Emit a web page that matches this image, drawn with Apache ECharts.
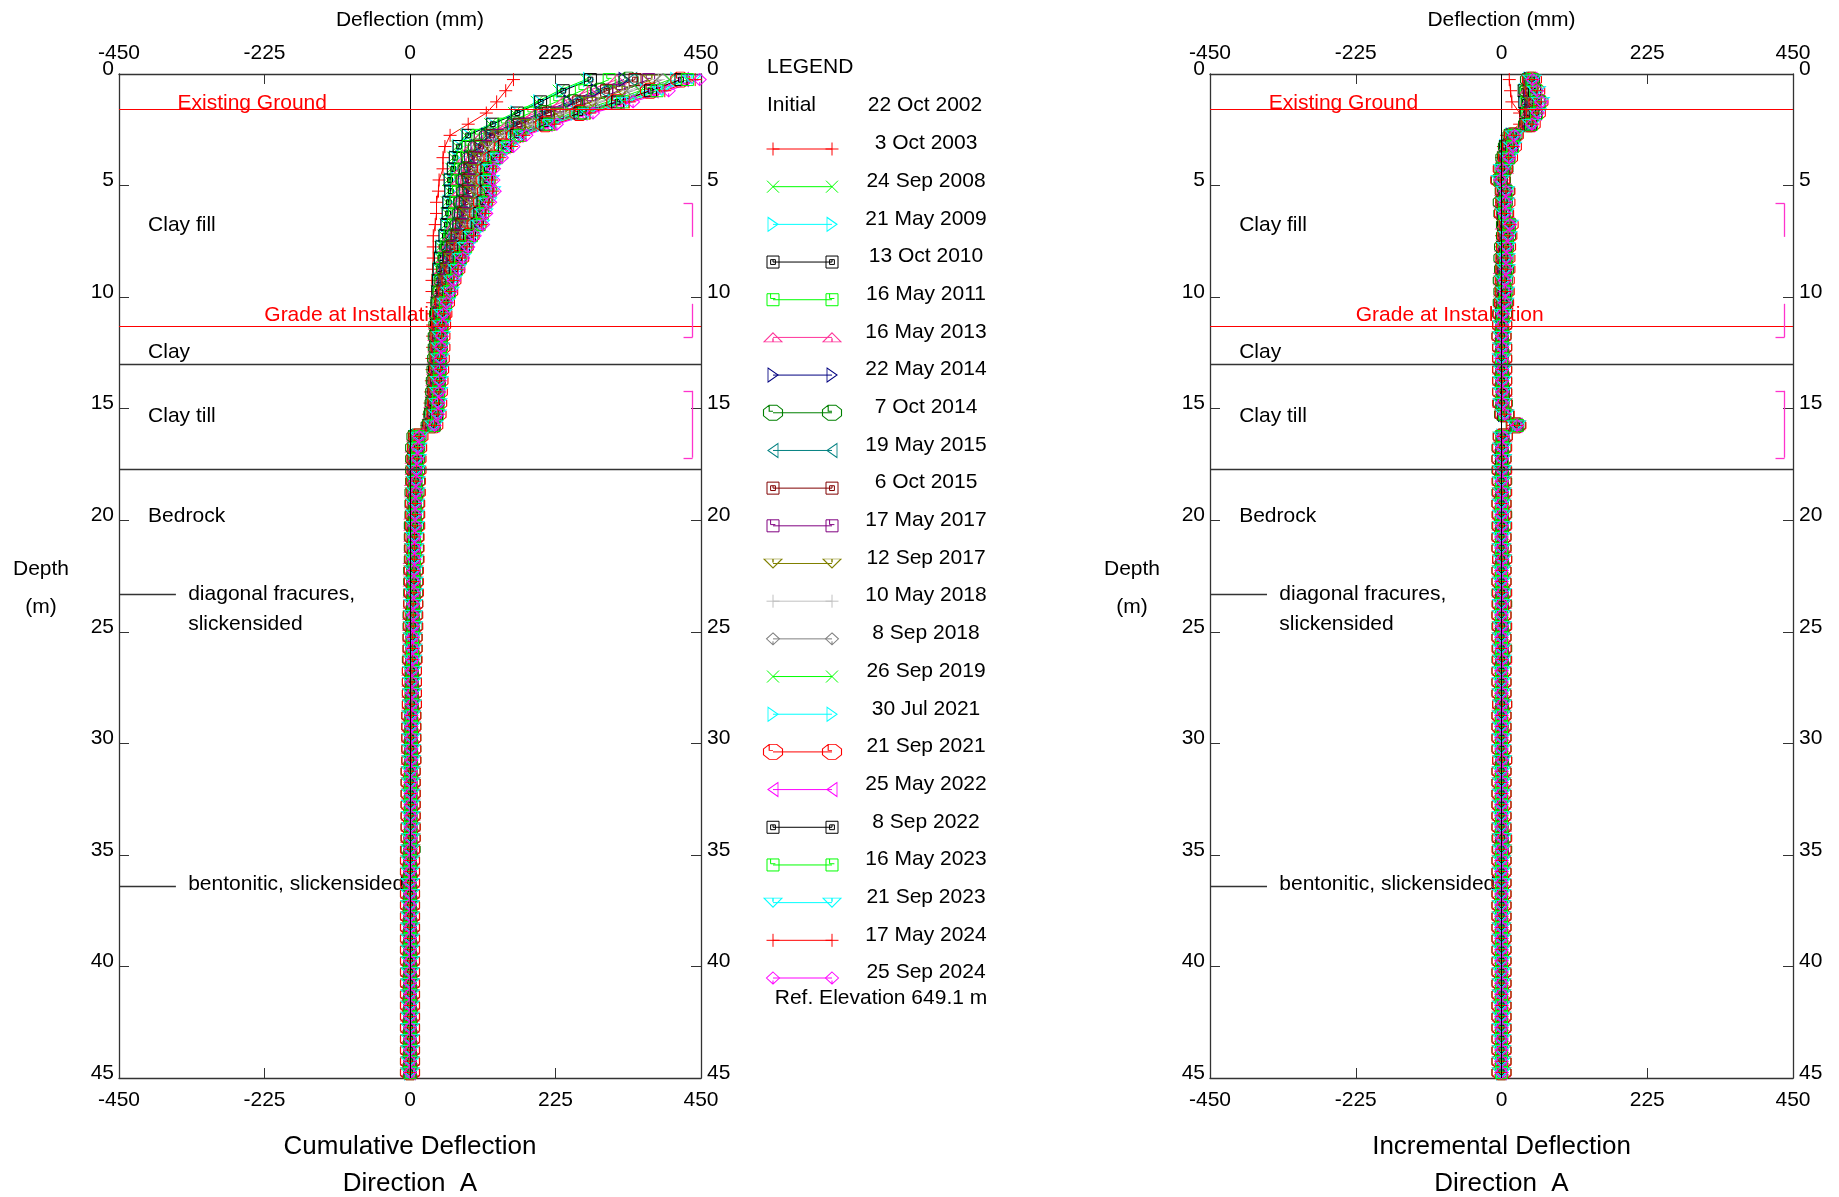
<!DOCTYPE html>
<html>
<head>
<meta charset="utf-8">
<script src="https://cdn.jsdelivr.net/npm/echarts@6/dist/echarts.min.js"></script>
<style>
html, body { margin: 0; padding: 0; background: #fff; }
#chart { width: 1839px; height: 1197px; }
</style>
</head>
<body>
<div id="chart"></div>
<script>
// reading depths (m)
const depths = [0.25,0.75,1.25,1.75,2.25,2.75,3.25,3.75,4.25,4.75,5.25,5.75,6.25,6.75,7.25,7.75,8.25,8.75,9.25,9.75,
  10.25,10.75,11.25,11.75,12.25,12.75,13.25,13.75,14.25,14.75,15.25,15.75,16.25,16.75,17.25,17.75,18.25,18.75,19.25,19.75,
  20.25,20.75,21.25,21.75,22.25,22.75,23.25,23.75,24.25,24.75,25.25,25.75,26.25,26.75,27.25,27.75,28.25,28.75,29.25,29.75,
  30.25,30.75,31.25,31.75,32.25,32.75,33.25,33.75,34.25,34.75,35.25,35.75,36.25,36.75,37.25,37.75,38.25,38.75,39.25,39.75,
  40.25,40.75,41.25,41.75,42.25,42.75,43.25,43.75,44.25,44.75];

const dates = ['3 Oct 2003','24 Sep 2008','21 May 2009','13 Oct 2010','16 May 2011','16 May 2013','22 May 2014','7 Oct 2014',
  '19 May 2015','6 Oct 2015','17 May 2017','12 Sep 2017','10 May 2018','8 Sep 2018','26 Sep 2019','30 Jul 2021',
  '21 Sep 2021','25 May 2022','8 Sep 2022','16 May 2023','21 Sep 2023','17 May 2024','25 Sep 2024'];

// cumulative deflection (mm), 0.25 m .. 17.75 m
const cumOct2003 = [160,148,134,118,90,62,54,51,51,45,44,41,41,39,36,36,36,35,34,34,35,35,35,35,35,34,34,33,32,31,29,26,8,7,6,6];
const cumSep2008 = [272,230,196,161,124,86,73,67,64,59,60,57,57,55,52,47,46,44,43,42,41,40,40,39,39,38,37,36,35,33,31,28,7,6,6,6];
const cumMay2009 = [276,234,199,164,126,88,74,69,66,61,62,59,58,56,53,48,46,44,43,42,42,41,40,40,39,39,38,37,36,34,32,29,8,7,6,6];
const cumOct2010 = [279,237,202,166,128,90,76,70,67,62,63,60,59,57,54,49,47,45,44,43,42,41,41,40,40,39,38,37,36,34,32,29,7,6,6,6];
const cumMay2011 = [308,265,226,186,145,105,90,82,78,73,75,71,69,67,62,56,53,50,48,46,45,43,43,42,41,40,40,39,38,36,34,31,8,7,7,7];
const cumMay2013 = [320,276,236,194,152,112,96,87,82,78,79,75,73,70,65,59,55,52,50,48,46,44,43,42,42,41,40,39,38,36,35,31,9,7,7,7];
const cumMay2014 = [331,288,246,202,159,118,102,92,87,83,84,80,77,74,68,62,58,54,51,49,47,44,44,43,43,42,41,40,39,37,35,32,9,8,8,8];
const cumOct2014 = [338,294,252,207,163,122,105,95,89,86,87,82,80,77,70,63,59,56,52,50,47,45,44,43,43,42,41,40,39,38,36,32,10,8,8,8];
const cumMay2015 = [343,299,256,211,166,124,108,97,91,88,89,84,81,78,72,65,60,56,53,51,48,45,44,43,43,42,41,40,39,38,36,32,10,9,8,8];
const cumOct2015 = [348,304,261,214,169,127,110,100,93,90,91,86,83,80,73,66,61,57,54,51,48,46,45,44,43,42,42,41,40,38,37,33,10,9,8,8];
const cumMay2017 = [369,323,278,228,181,138,121,108,100,98,99,94,90,87,78,71,66,61,57,54,50,47,46,45,44,43,43,42,41,39,38,34,11,9,9,8];
const cumSep2017 = [374,328,282,232,183,140,123,110,102,100,101,96,92,88,80,72,67,62,57,54,50,47,46,45,45,44,43,42,41,40,38,34,11,10,9,8];
const cumMay2018 = [384,338,291,239,189,146,128,115,106,104,105,100,96,92,83,74,69,64,59,55,51,48,47,46,45,44,44,43,42,40,39,35,11,10,9,9];
const cumSep2018 = [391,345,296,243,193,149,131,118,109,106,108,102,98,94,84,76,70,65,60,56,52,48,47,46,45,44,44,43,42,41,39,35,12,10,9,9];
const cumSep2019 = [402,356,306,251,200,156,137,123,113,111,113,107,102,98,88,79,73,67,62,58,53,49,48,47,46,45,45,44,43,41,40,36,12,11,10,9];
const cumJul2021 = [411,364,314,257,205,160,142,126,116,114,116,110,105,101,90,81,74,68,63,59,54,50,48,47,46,45,45,44,43,42,41,36,12,11,10,9];
const cumSep2021 = [418,371,319,262,209,164,145,129,119,117,119,113,107,103,92,83,76,70,64,59,54,50,48,47,47,46,45,44,43,42,41,36,13,11,10,10];
const cumMay2022 = [423,376,324,266,212,167,147,131,121,119,121,114,109,105,93,84,77,71,64,60,55,50,49,48,47,46,46,45,44,43,41,37,13,11,10,10];
const cumSep2022 = [419,372,321,263,210,165,146,130,119,118,119,113,108,104,92,83,76,70,64,60,55,50,49,48,47,46,46,45,44,42,41,37,13,11,10,10];
const cumMay2023 = [429,382,329,270,216,170,151,134,123,122,124,117,112,107,95,86,78,72,65,61,55,51,49,48,47,46,46,45,44,43,42,37,13,12,11,10];
const cumSep2023 = [436,389,335,275,220,174,154,137,126,124,126,120,114,109,97,87,80,73,66,62,56,51,49,48,47,46,46,45,44,43,42,37,14,12,11,10];
const cumMay2024 = [441,394,339,278,223,176,157,139,128,126,128,121,116,111,98,88,81,74,67,62,56,52,50,49,48,47,47,46,45,44,43,38,14,12,11,10];
const cumSep2024 = [448,400,345,283,227,180,160,142,130,129,131,124,118,113,100,90,82,75,68,63,57,52,50,49,48,47,47,46,45,44,43,38,14,12,11,10];

// cumulative deflection in bedrock (mm), 18.25 m .. 44.75 m
const deepOld = [6,6,6,5,5,5,5,4,4,4,4,4,3,3,3,3,3,2,2,2,2,2,2,1,1,1,1,1,1,1,1,1,
  0,0,0,0,0,0,0,0,0,0,0,0,0,0,0,0,0,0,0,0,0,0];
const deepMid = [8,7,7,7,6,6,6,6,5,5,5,5,4,4,4,4,3,3,3,3,3,2,2,2,2,2,1,1,1,1,1,1,1,1,
  0,0,0,0,0,0,0,0,0,0,0,0,0,0,0,0,0,0,0,0];
const deepNew = [9,9,8,8,8,7,7,7,6,6,6,5,5,5,4,4,4,3,3,3,3,2,2,2,2,2,1,1,1,1,1,1,1,
  0,0,0,0,0,0,0,0,0,0,0,0,0,0,0,0,0,0,0,0,0];

const profiles = [
  [cumOct2003, deepOld], [cumSep2008, deepOld], [cumMay2009, deepOld], [cumOct2010, deepOld],
  [cumMay2011, deepOld], [cumMay2013, deepOld], [cumMay2014, deepMid], [cumOct2014, deepMid],
  [cumMay2015, deepMid], [cumOct2015, deepMid], [cumMay2017, deepMid], [cumSep2017, deepMid],
  [cumMay2018, deepMid], [cumSep2018, deepMid], [cumSep2019, deepNew], [cumJul2021, deepNew],
  [cumSep2021, deepNew], [cumMay2022, deepNew], [cumSep2022, deepNew], [cumMay2023, deepNew],
  [cumSep2023, deepNew], [cumMay2024, deepNew], [cumSep2024, deepNew]
];

// soil layers
const redBoundaries = [1.6, 11.3];
const blackBoundaries = [13.0, 17.7];
const featureDepths = [23.3, 36.4];
const bracketRanges = [[5.8, 7.3], [10.3, 11.8], [14.2, 17.2]];

const colors = ['#ff0000','#00ff00','#00ffff','#000000','#00ff00','#ff3399','#000080','#008000',
  '#008080','#800000','#800080','#808000','#c0c0c0','#808080','#00ff00','#00ffff',
  '#ff0000','#ff00ff','#000000','#00ff00','#00ffff','#ff0000','#ff00ff'];

const SYM = {
  plus: 'path://M5,0L5,10M0,5L10,5',
  cross: 'path://M0,0L10,10M10,0L0,10',
  triRight: 'path://M0,0L10,5L0,10Z',
  triLeft: 'path://M10,0L0,5L10,10Z',
  triUp: 'path://M5,0L10,10L0,10Z M5,10L5,6',
  triDown: 'path://M0,0L10,0L5,10Z M5,0L5,4',
  boxIn: 'path://M0,0L10,0L10,10L0,10Z M3,3L7,3L7,7L3,7Z M5,3L5,5',
  boxTick: 'path://M0,0L10,0L10,10L0,10Z M3,0L3,4L7,4',
  octagon: 'path://M3,0L7,0L10,3L10,7L7,10L3,10L0,7L0,3Z M3,0L3,4L5,4',
  diamond: 'path://M5,0L10,5L5,10L0,5Z M5,10L5,7'
};
const symbolKinds = ['plus','cross','triRight','boxIn','boxTick','triUp','triRight','octagon',
  'triLeft','boxIn','boxTick','triDown','plus','diamond','cross','triRight',
  'octagon','triLeft','boxIn','boxTick','triDown','plus','diamond'];
const SIZE = {
  plus: [13, 13], cross: [12, 12], triRight: [10, 14], triLeft: [10, 14], triUp: [18, 9], triDown: [18, 9],
  boxIn: [12, 12], boxTick: [12, 12], octagon: [19, 15], diamond: [13, 12]
};

const cumulative = profiles.map(p => p[0].concat(p[1]));
// incremental = change between successive readings
const incremental = cumulative.map(c => c.map((v, i) => i < c.length - 1 ? v - c[i + 1] : v));

const FONT = '"Liberation Sans", Arial, Helvetica, sans-serif';
const chart = echarts.init(document.getElementById('chart'));

function xAx(grid, pos) {
  return {
    gridIndex: grid, type: 'value', position: pos, min: -450, max: 450, interval: 225,
    axisLine: { onZero: false, lineStyle: { color: '#333', width: 1.3 } },
    axisTick: { inside: true, length: 10, lineStyle: { color: '#333' } },
    axisLabel: { margin: pos === 'top' ? 10 : 12, fontSize: 21, color: '#000', fontFamily: FONT },
    splitLine: { show: false }
  };
}
function yAx(grid, pos) {
  return {
    gridIndex: grid, type: 'value', position: pos, inverse: true, min: 0, max: 45, interval: 5,
    axisLine: { onZero: false, lineStyle: { color: '#333', width: 1.3 } },
    axisTick: { inside: true, length: 10, lineStyle: { color: '#333' } },
    axisLabel: { margin: pos === 'left' ? 5 : 6, fontSize: 21, color: '#000', fontFamily: FONT,
      verticalAlign: 'bottom', lineHeight: 10 },
    splitLine: { show: false }
  };
}

function markerStyle(k) {
  const kind = symbolKinds[k];
  return {
    symbol: SYM[kind], symbolSize: SIZE[kind], showAllSymbol: true,
    lineStyle: { color: colors[k], width: 1 },
    itemStyle: { color: 'rgba(0,0,0,0)', borderColor: colors[k], borderWidth: 1 }
  };
}

const series = [];

// layer lines for both plots
[0, 2].forEach(ax => {
  const solid = (color, width) => ({ color, width, type: 'solid' });
  const ml = [{ xAxis: 0, lineStyle: solid('#000', 1) }];
  redBoundaries.forEach(d => ml.push({ yAxis: d, lineStyle: solid('#ff0000', 1) }));
  blackBoundaries.forEach(d => ml.push({ yAxis: d, lineStyle: solid('#333', 1.3) }));
  featureDepths.forEach(d => ml.push([{ coord: [-450, d], lineStyle: solid('#333', 1.3) }, { coord: [-362, d] }]));
  const mag = solid('#ff33cc', 1.3);
  bracketRanges.forEach((r, b) => {
    ml.push([{ coord: [437, r[0]], lineStyle: mag }, { coord: [437, r[1]] }]);
    if (b !== 1) ml.push([{ coord: [423, r[0]], lineStyle: mag }, { coord: [437, r[0]] }]);
    if (b !== 0) ml.push([{ coord: [423, r[1]], lineStyle: mag }, { coord: [437, r[1]] }]);
  });
  series.push({
    type: 'line', xAxisIndex: ax, yAxisIndex: ax, data: [[0, 0]], symbol: 'none',
    lineStyle: { opacity: 0 }, z: 1, silent: true, animation: false,
    markLine: { symbol: ['none', 'none'], silent: true, animation: false, label: { show: false },
      emphasis: { disabled: true }, data: ml }
  });
});

dates.forEach((name, k) => {
  [[0, cumulative[k]], [2, incremental[k]]].forEach(([ax, vals]) => {
    series.push(Object.assign({
      type: 'line', name, xAxisIndex: ax, yAxisIndex: ax,
      data: vals.map((v, i) => [v, depths[i]]),
      z: 3, silent: true, animation: false
    }, markerStyle(k)));
  });
  series.push(Object.assign({
    type: 'line', name, xAxisIndex: 4, yAxisIndex: 4, clip: false,
    data: [[0, k], [1, k]], z: 3, silent: true, animation: false
  }, markerStyle(k)));
});

chart.setOption({
  animation: false,
  backgroundColor: '#fff',
  grid: [
    { left: 119, top: 74, width: 582, height: 1004 },
    { left: 1210, top: 74, width: 583, height: 1004 },
    { left: 773, top: 149, width: 59, height: 829 }
  ],
  xAxis: [xAx(0, 'bottom'), xAx(0, 'top'), xAx(1, 'bottom'), xAx(1, 'top'),
    { gridIndex: 2, type: 'value', min: 0, max: 1, show: false }],
  yAxis: [yAx(0, 'left'), yAx(0, 'right'), yAx(1, 'left'), yAx(1, 'right'),
    { gridIndex: 2, type: 'value', min: 0, max: dates.length - 1, inverse: true, show: false }],
  series
});

// text annotations
function txt(text, x, y, size, align, color) {
  return { type: 'text', x, y, z: 2, silent: true,
    style: { text, font: size + 'px ' + FONT, fill: color || '#000',
      textAlign: align || 'center', align: align || 'center', textVerticalAlign: 'middle', verticalAlign: 'middle' } };
}
const layerLabels = [
  ['Existing Ground', -244, 1.3, 'center', '#ff0000'],
  ['Grade at Installation', -80, 10.82, 'center', '#ff0000'],
  ['Clay fill', -405, 6.77, 'left'],
  ['Clay', -405, 12.47, 'left'],
  ['Clay till', -405, 15.33, 'left'],
  ['Bedrock', -405, 19.82, 'left'],
  ['diagonal fracures,', -343, 23.31, 'left'],
  ['slickensided', -343, 24.66, 'left'],
  ['bentonitic, slickensided', -343, 36.31, 'left']
];
const graphic = [];
[[0, 'Cumulative Deflection'], [2, 'Incremental Deflection']].forEach(([ax, title]) => {
  layerLabels.forEach(([t, x, d, align, color]) => {
    const p = chart.convertToPixel({ xAxisIndex: ax, yAxisIndex: ax }, [x, d]);
    graphic.push(txt(t, p[0], p[1], 21, align, color));
  });
  const cx = chart.convertToPixel({ xAxisIndex: ax }, 0);
  graphic.push(txt('Deflection (mm)', cx, 20, 21));
  graphic.push(txt(title, cx, 1147, 26));
  graphic.push(txt('Direction  A', cx, 1184, 26));
  const left = chart.convertToPixel({ xAxisIndex: ax }, -450);
  graphic.push(txt('Depth', left - 78, 569, 21));
  graphic.push(txt('(m)', left - 78, 607, 21));
});
graphic.push(txt('LEGEND', 767, 67, 21, 'left'));
graphic.push(txt('Initial', 767, 105, 21, 'left'));
graphic.push(txt('22 Oct 2002', 925, 105, 21));
dates.forEach((name, k) => {
  const y = chart.convertToPixel({ yAxisIndex: 4 }, k);
  graphic.push(txt(name, 926, y - 5.5, 21));
});
graphic.push(txt('Ref. Elevation 649.1 m', 881, 998, 21));
chart.setOption({ graphic });
</script>
</body>
</html>
